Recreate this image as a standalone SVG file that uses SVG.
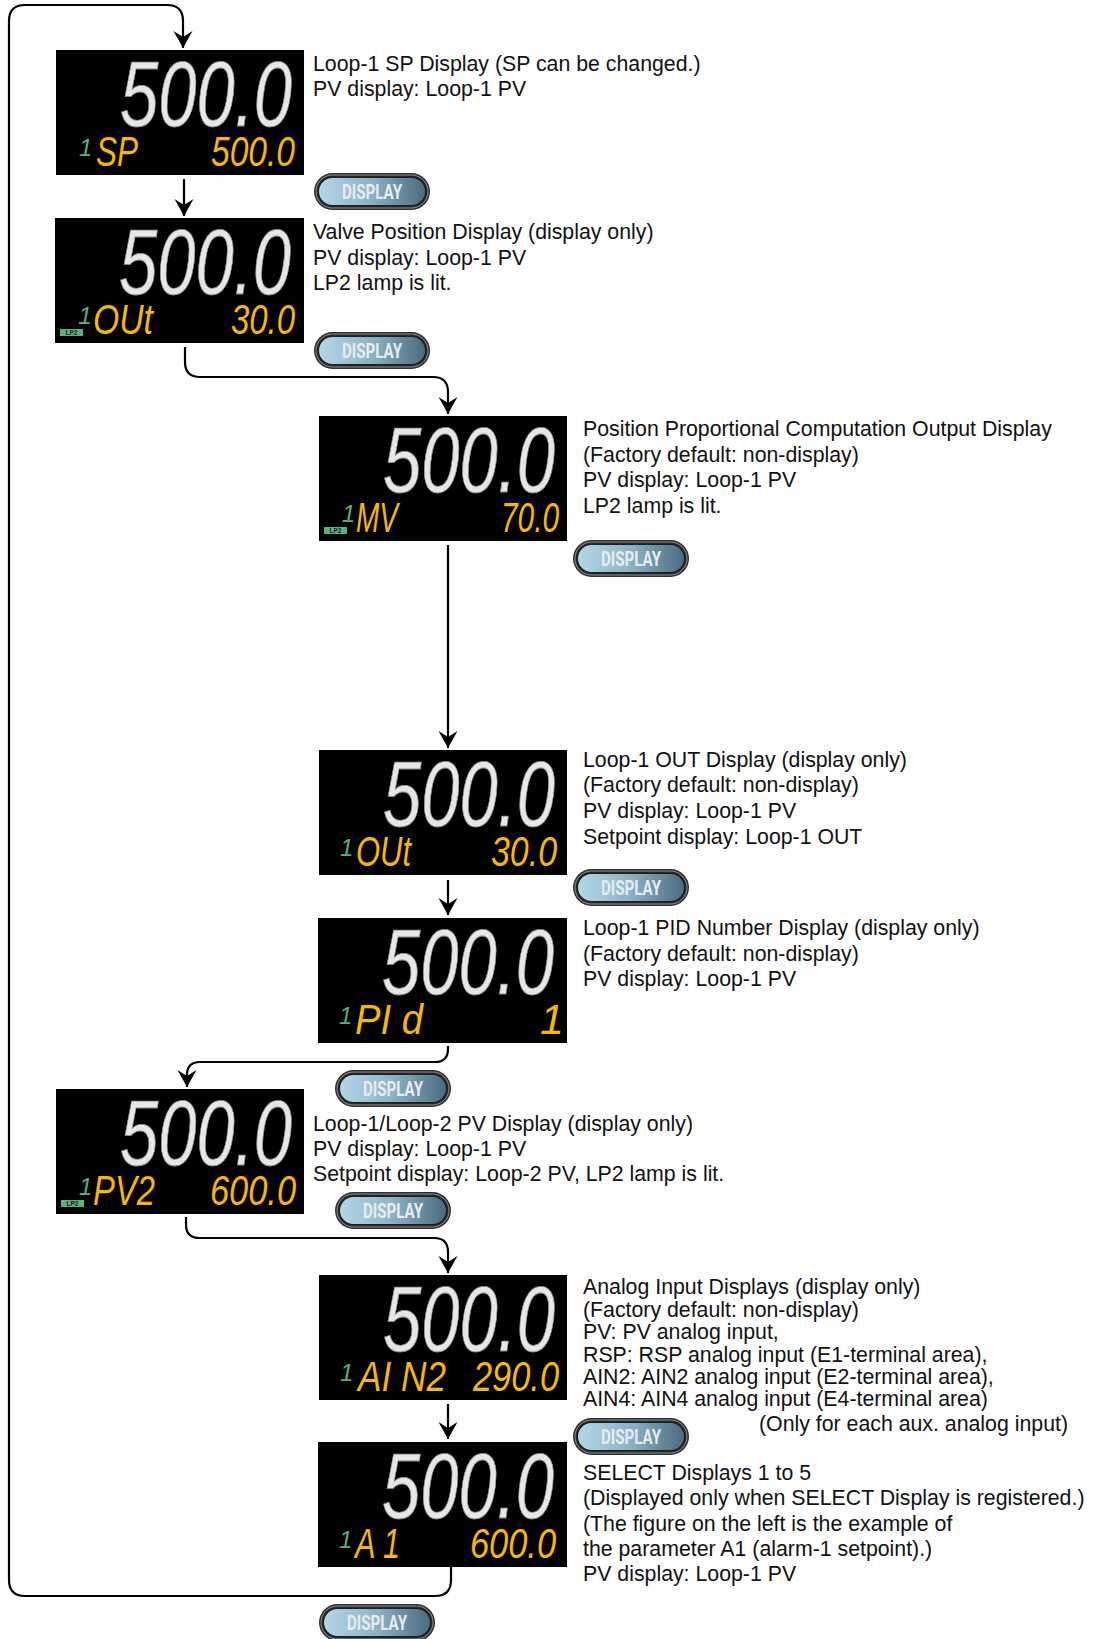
<svg xmlns="http://www.w3.org/2000/svg" xmlns:xlink="http://www.w3.org/1999/xlink" width="1098" height="1639" viewBox="0 0 1098 1639">
<style>
  .desc { font-family: "Liberation Sans", Arial, sans-serif; font-size: 21.3px; fill: #111; }
  .lcd { fill: #000; }
  .big { font-family: "Liberation Sans", Arial, sans-serif; font-style: italic; font-size: 93px; fill: #e6e6e6; stroke: #8a8a8a; stroke-width: 0.8; }
  .sm { font-family: "Liberation Sans", Arial, sans-serif; font-style: italic; font-size: 43px; fill: #f6b800; }
  .g1 { font-family: "Liberation Sans", Arial, sans-serif; font-style: italic; font-size: 24px; fill: #55b07d; }
  .lp2 { fill: #58b27e; }
  .lp2t { font-family: "Liberation Sans", Arial, sans-serif; font-size: 6.5px; font-weight: bold; fill: #1d1d1d; text-anchor: middle; }
  .btnt { font-family: "Liberation Sans Narrow", "Roboto", "Liberation Sans", Arial, sans-serif; font-weight: bold; font-size: 19.5px; fill: #e9ecee; }
  .conn path { fill: none; stroke: #000; stroke-width: 2.2; }
</style>
<defs>
  <linearGradient id="btng" x1="0" y1="0" x2="1" y2="0">
    <stop offset="0" stop-color="#b4d6e7"/>
    <stop offset="0.5" stop-color="#89b2c7"/>
    <stop offset="1" stop-color="#4b6c80"/>
  </linearGradient>
  <g id="btn">
    <rect x="0" y="0" width="116" height="37" rx="18.5" fill="#2f2f2f"/>
    <rect x="2" y="2" width="112" height="33" rx="16.5" fill="none" stroke="#8f8f8f" stroke-width="1"/>
    <rect x="3.5" y="3.5" width="109" height="30" rx="15" fill="#1e1e1e"/>
    <rect x="5" y="5" width="106" height="27" rx="13.5" fill="url(#btng)"/>
  </g>
  <marker id="arr" markerUnits="userSpaceOnUse" markerWidth="20" markerHeight="20" viewBox="-17 -10 18 20" refX="0" refY="0" orient="auto" overflow="visible">
    <path d="M0,0 L-17,-9.5 L-11,0 L-17,9.5 Z" fill="#000"/>
  </marker>
</defs>
<rect x="0" y="0" width="1098" height="1639" fill="#fff"/>

<g id="connectors" class="conn">
  <path d="M451,1567 L451,1580 Q451,1596 435,1596 L25,1596 Q9,1596 9,1580 L9,21 Q9,5 25,5 L167,5 Q183,5 183,21 L183,48" marker-end="url(#arr)"/>
  <path d="M184,179 L184,216" marker-end="url(#arr)"/>
  <path d="M185,347 L185,362 Q185,377 200,377 L433,377 Q448,377 448,392 L448,414" marker-end="url(#arr)"/>
  <path d="M448,545 L448,748" marker-end="url(#arr)"/>
  <path d="M448,880 L448,915" marker-end="url(#arr)"/>
  <path d="M448,1046 L448,1049 Q448,1062 435,1062 L200,1062 Q187,1062 187,1075 L187,1087" marker-end="url(#arr)"/>
  <path d="M186,1217 L186,1225 Q186,1238 200,1238 L434,1238 Q448,1238 448,1252 L448,1273" marker-end="url(#arr)"/>
  <path d="M448,1404 L448,1439" marker-end="url(#arr)"/>
</g>

<g id="node1">
  <g transform="translate(56,50)">
    <rect class="lcd" x="0" y="0" width="248" height="125"/>
    <text class="big" x="64" y="76" textLength="172" lengthAdjust="spacingAndGlyphs">500.0</text>
    <text class="g1" x="23" y="106">1</text>
    <text class="sm" x="40" y="116" textLength="42" lengthAdjust="spacingAndGlyphs">SP</text>
    <text class="sm" x="155" y="116" textLength="84" lengthAdjust="spacingAndGlyphs">500.0</text>
  </g>
  <text class="desc" x="313" y="71">Loop-1 SP Display (SP can be changed.)</text>
  <text class="desc" x="313" y="96">PV display: Loop-1 PV</text>
</g>

<g id="btn1"><use href="#btn" x="314" y="173"/><text class="btnt" x="342" y="199" textLength="60" lengthAdjust="spacingAndGlyphs">DISPLAY</text></g>

<g id="node2">
  <g transform="translate(55,218)">
    <rect class="lcd" x="0" y="0" width="249" height="125"/>
    <text class="big" x="64" y="76" textLength="172" lengthAdjust="spacingAndGlyphs">500.0</text>
    <rect class="lp2" x="5" y="111" width="23" height="7"/>
    <text class="lp2t" x="16.5" y="117">LP2</text>
    <rect class="lp2" x="24" y="104" width="4" height="1.6"/>
    <text class="g1" x="23.5" y="106">1</text>
    <text class="sm" x="38" y="116" textLength="60" lengthAdjust="spacingAndGlyphs">OUt</text>
    <text class="sm" x="176" y="116" textLength="64" lengthAdjust="spacingAndGlyphs">30.0</text>
  </g>
  <text class="desc" x="313" y="239">Valve Position Display (display only)</text>
  <text class="desc" x="313" y="265">PV display: Loop-1 PV</text>
  <text class="desc" x="313" y="290">LP2 lamp is lit.</text>
</g>

<g id="btn2"><use href="#btn" x="314" y="332"/><text class="btnt" x="342" y="358" textLength="60" lengthAdjust="spacingAndGlyphs">DISPLAY</text></g>

<g id="node3">
  <g transform="translate(319,416)">
    <rect class="lcd" x="0" y="0" width="248" height="125"/>
    <text class="big" x="64" y="76" textLength="172" lengthAdjust="spacingAndGlyphs">500.0</text>
    <rect class="lp2" x="5" y="111" width="23" height="7"/>
    <text class="lp2t" x="16.5" y="117">LP2</text>
    <rect class="lp2" x="24" y="104" width="4" height="1.6"/>
    <text class="g1" x="23" y="106">1</text>
    <text class="sm" x="37" y="116" textLength="42" lengthAdjust="spacingAndGlyphs">MV</text>
    <text class="sm" x="182" y="116" textLength="58" lengthAdjust="spacingAndGlyphs">70.0</text>
  </g>
  <text class="desc" x="583" y="436">Position Proportional Computation Output Display</text>
  <text class="desc" x="583" y="462">(Factory default: non-display)</text>
  <text class="desc" x="583" y="487">PV display: Loop-1 PV</text>
  <text class="desc" x="583" y="513">LP2 lamp is lit.</text>
</g>

<g id="btn3"><use href="#btn" x="573" y="540"/><text class="btnt" x="601" y="566" textLength="60" lengthAdjust="spacingAndGlyphs">DISPLAY</text></g>

<g id="node4">
  <g transform="translate(319,750)">
    <rect class="lcd" x="0" y="0" width="248" height="125"/>
    <text class="big" x="64" y="76" textLength="172" lengthAdjust="spacingAndGlyphs">500.0</text>
    <text class="g1" x="21" y="106">1</text>
    <text class="sm" x="37" y="116" textLength="55" lengthAdjust="spacingAndGlyphs">OUt</text>
    <text class="sm" x="172" y="116" textLength="66" lengthAdjust="spacingAndGlyphs">30.0</text>
  </g>
  <text class="desc" x="583" y="767">Loop-1 OUT Display (display only)</text>
  <text class="desc" x="583" y="792">(Factory default: non-display)</text>
  <text class="desc" x="583" y="818">PV display: Loop-1 PV</text>
  <text class="desc" x="583" y="844">Setpoint display: Loop-1 OUT</text>
</g>

<g id="btn4"><use href="#btn" x="573" y="869"/><text class="btnt" x="601" y="895" textLength="60" lengthAdjust="spacingAndGlyphs">DISPLAY</text></g>

<g id="node5">
  <g transform="translate(318,918)">
    <rect class="lcd" x="0" y="0" width="249" height="125"/>
    <text class="big" x="64" y="76" textLength="172" lengthAdjust="spacingAndGlyphs">500.0</text>
    <text class="g1" x="21" y="106">1</text>
    <text class="sm" x="37" y="116" textLength="68" lengthAdjust="spacingAndGlyphs">PI d</text>
    <text class="sm" x="222" y="116">1</text>
  </g>
  <text class="desc" x="583" y="935">Loop-1 PID Number Display (display only)</text>
  <text class="desc" x="583" y="961">(Factory default: non-display)</text>
  <text class="desc" x="583" y="986">PV display: Loop-1 PV</text>
</g>

<g id="btn5"><use href="#btn" x="335" y="1070"/><text class="btnt" x="363" y="1096" textLength="60" lengthAdjust="spacingAndGlyphs">DISPLAY</text></g>

<g id="node6">
  <g transform="translate(56,1089)">
    <rect class="lcd" x="0" y="0" width="248" height="125"/>
    <text class="big" x="64" y="76" textLength="172" lengthAdjust="spacingAndGlyphs">500.0</text>
    <rect class="lp2" x="5" y="111" width="23" height="7"/>
    <text class="lp2t" x="16.5" y="117">LP2</text>
    <rect class="lp2" x="24" y="104" width="4" height="1.6"/>
    <text class="g1" x="23" y="106">1</text>
    <text class="sm" x="37" y="116" textLength="62" lengthAdjust="spacingAndGlyphs">PV2</text>
    <text class="sm" x="154" y="116" textLength="86" lengthAdjust="spacingAndGlyphs">600.0</text>
  </g>
  <text class="desc" x="313" y="1131">Loop-1/Loop-2 PV Display (display only)</text>
  <text class="desc" x="313" y="1156">PV display: Loop-1 PV</text>
  <text class="desc" x="313" y="1181">Setpoint display: Loop-2 PV, LP2 lamp is lit.</text>
</g>

<g id="btn6"><use href="#btn" x="335" y="1192"/><text class="btnt" x="363" y="1218" textLength="60" lengthAdjust="spacingAndGlyphs">DISPLAY</text></g>

<g id="node7">
  <g transform="translate(319,1275)">
    <rect class="lcd" x="0" y="0" width="248" height="125"/>
    <text class="big" x="64" y="76" textLength="172" lengthAdjust="spacingAndGlyphs">500.0</text>
    <text class="g1" x="21" y="106">1</text>
    <text class="sm" x="39" y="116" textLength="88" lengthAdjust="spacingAndGlyphs">AI N2</text>
    <text class="sm" x="154" y="116" textLength="86" lengthAdjust="spacingAndGlyphs">290.0</text>
  </g>
  <text class="desc" x="583" y="1294">Analog Input Displays (display only)</text>
  <text class="desc" x="583" y="1317">(Factory default: non-display)</text>
  <text class="desc" x="583" y="1339">PV: PV analog input,</text>
  <text class="desc" x="583" y="1362">RSP: RSP analog input (E1-terminal area),</text>
  <text class="desc" x="583" y="1384">AIN2: AIN2 analog input (E2-terminal area),</text>
  <text class="desc" x="583" y="1406">AIN4: AIN4 analog input (E4-terminal area)</text>
  <text class="desc" x="759" y="1431">(Only for each aux. analog input)</text>
</g>

<g id="btn7"><use href="#btn" x="573" y="1418"/><text class="btnt" x="601" y="1444" textLength="60" lengthAdjust="spacingAndGlyphs">DISPLAY</text></g>

<g id="node8">
  <g transform="translate(318,1442)">
    <rect class="lcd" x="0" y="0" width="249" height="125"/>
    <text class="big" x="64" y="76" textLength="172" lengthAdjust="spacingAndGlyphs">500.0</text>
    <text class="g1" x="21" y="106">1</text>
    <text class="sm" x="37" y="116" textLength="45" lengthAdjust="spacingAndGlyphs">A 1</text>
    <text class="sm" x="152" y="116" textLength="86" lengthAdjust="spacingAndGlyphs">600.0</text>
  </g>
  <text class="desc" x="583" y="1480">SELECT Displays 1 to 5</text>
  <text class="desc" x="583" y="1505">(Displayed only when SELECT Display is registered.)</text>
  <text class="desc" x="583" y="1531">(The figure on the left is the example of</text>
  <text class="desc" x="583" y="1556">the parameter A1 (alarm-1 setpoint).)</text>
  <text class="desc" x="583" y="1581">PV display: Loop-1 PV</text>
</g>

<g id="btn8"><use href="#btn" x="319" y="1604"/><text class="btnt" x="347" y="1630" textLength="60" lengthAdjust="spacingAndGlyphs">DISPLAY</text></g>
</svg>
